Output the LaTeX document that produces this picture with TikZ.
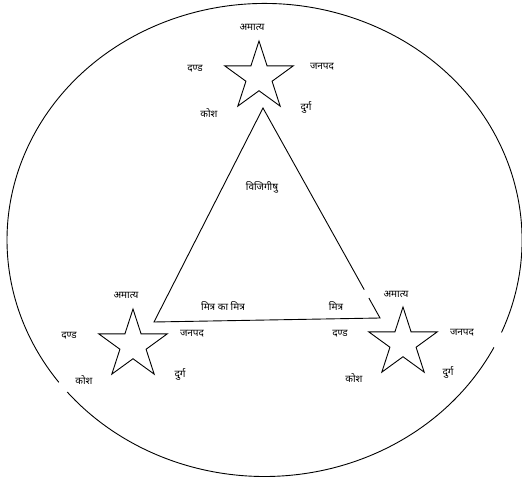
\documentclass[tikz,border=0pt]{standalone}
\usepackage{fontspec}
\newfontfamily\deva[Script=Devanagari]{Noto Sans}
\usetikzlibrary{shapes.geometric,calc}
\begin{document}
\begin{tikzpicture}[x=1pt,y=1pt,
  lbl/.style={font=\deva\fontsize{10}{12}\selectfont, inner sep=0pt},
  stardraw/.style={draw, star, star points=5, star point ratio=2.618, minimum size=72pt, inner sep=0pt, line width=0.9pt},
  thin line/.style={line width=0.9pt}]
\useasboundingbox (0,0) rectangle (522,482);
% outer ellipse with small gaps
\draw[thin line] (264.5,242) ++(-23:257.5 and 236.5) arc[start angle=-23, end angle=217, x radius=257.5, y radius=236.5];
\draw[thin line] (264.5,242) ++(220:257.5 and 236.5) arc[start angle=220, end angle=333, x radius=257.5, y radius=236.5];
% triangle
\coordinate (A) at (263,374);
\coordinate (BL) at (154,160);
\coordinate (BR) at (380,164);
\draw[thin line] ($(A)!0.865!(BR)$) -- (A) -- (BL) -- (BR) -- ($(A)!0.905!(BR)$);
% stars
\node[stardraw] (s1) at (259,405) {};
\node[stardraw] (s2) at (133,137) {};
\node[stardraw] (s3) at (403,139) {};
% labels top star
\node[lbl] (t1) at (252,455) {अमात्य};
\node[lbl] (t2) at (195,413) {दण्ड};
\node[lbl] (t3) at (322,415) {जनपद};
\node[lbl] (t4) at (209,369) {कोश};
\node[lbl] (t5) at (306,375) {दुर्ग};
\node[lbl] (vij) at (262,295) {विजिगीषु};
% bottom left
\node[lbl] (l1) at (126,187) {अमात्य};
\node[lbl] (l2) at (69,146) {दण्ड};
\node[lbl] (l3) at (192,148) {जनपद};
\node[lbl] (l4) at (84,102) {कोश};
\node[lbl] (l5) at (180,108) {दुर्ग};
\node[lbl] (mkm) at (223,176) {मित्र का मित्र};
\node[lbl] (mit) at (336,176) {मित्र};
% bottom right
\node[lbl] (r1) at (396,188) {अमात्य};
\node[lbl] (r2) at (340,148) {दण्ड};
\node[lbl] (r3) at (462,149) {जनपद};
\node[lbl] (r4) at (354,104) {कोश};
\node[lbl] (r5) at (448,110) {दुर्ग};
\end{tikzpicture}
\end{document}
